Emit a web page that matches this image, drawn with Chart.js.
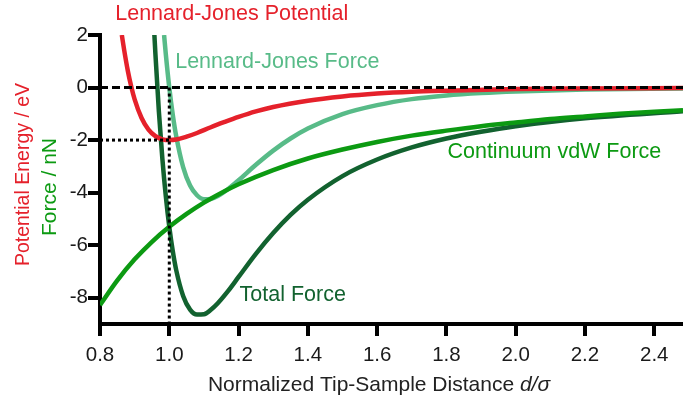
<!DOCTYPE html>
<html>
<head>
<meta charset="utf-8">
<title>Tip-Sample Interaction</title>
<script src="https://cdn.jsdelivr.net/npm/chart.js@4.4.1/dist/chart.umd.min.js"></script>
<style>
  html, body { margin: 0; padding: 0; background: #ffffff; }
  #wrap { width: 683px; height: 400px; }
</style>
</head>
<body>
<div id="wrap"><canvas id="c" width="683" height="400"></canvas></div>
<script>
// Lennard-Jones potential (eV) versus normalized distance d/sigma
const ljPotX = [0.863, 0.87, 0.88, 0.89, 0.90, 0.92, 0.94, 0.96, 0.98, 1.00, 1.02, 1.05, 1.08, 1.12, 1.16, 1.20, 1.25, 1.30, 1.40, 1.50, 1.60, 1.70, 1.80, 2.00, 2.20, 2.483];
const ljPotY = [2.00, 1.41, 0.66, 0.05, -0.45, -1.16, -1.60, -1.85, -1.97, -2.00, -1.98, -1.87, -1.73, -1.51, -1.31, -1.12, -0.91, -0.74, -0.50, -0.34, -0.23, -0.16, -0.12, -0.06, -0.035, -0.017];

// Lennard-Jones force (nN)
const ljForceX = [0.985, 0.99, 1.00, 1.01, 1.02, 1.04, 1.06, 1.08, 1.10, 1.12, 1.14, 1.17, 1.20, 1.25, 1.30, 1.35, 1.40, 1.50, 1.60, 1.70, 1.80, 1.90, 2.00, 2.20, 2.483];
const ljForceY = [2.00, 1.27, 0.00, -1.03, -1.85, -3.03, -3.73, -4.10, -4.25, -4.24, -4.13, -3.86, -3.53, -2.94, -2.40, -1.94, -1.56, -1.01, -0.67, -0.44, -0.30, -0.21, -0.15, -0.075, -0.033];

// Continuum van der Waals force (nN)
const vdwX = [0.80, 0.85, 0.90, 0.95, 1.00, 1.05, 1.10, 1.15, 1.20, 1.30, 1.40, 1.50, 1.60, 1.70, 1.80, 1.90, 2.00, 2.10, 2.20, 2.30, 2.40, 2.483];
const vdwY = [-8.28, -7.34, -6.54, -5.87, -5.30, -4.81, -4.38, -4.01, -3.68, -3.14, -2.70, -2.36, -2.07, -1.83, -1.64, -1.47, -1.33, -1.20, -1.10, -1.00, -0.92, -0.86];

// Total force (nN)
const totalX = [0.957, 0.96, 0.97, 0.98, 0.99, 1.00, 1.01, 1.02, 1.04, 1.06, 1.08, 1.10, 1.12, 1.14, 1.17, 1.20, 1.25, 1.30, 1.35, 1.40, 1.50, 1.60, 1.70, 1.80, 1.90, 2.00, 2.20, 2.483];
const totalY = [2.00, 1.27, -0.92, -2.70, -4.14, -5.30, -6.22, -6.95, -7.93, -8.45, -8.64, -8.63, -8.46, -8.21, -7.74, -7.21, -6.33, -5.54, -4.85, -4.27, -3.37, -2.74, -2.28, -1.94, -1.68, -1.47, -1.17, -0.90];

// Axis ranges and tick labels
const xRange = [0.8, 2.483];
const yRange = [-9, 2];
const xTicks = [0.8, 1.0, 1.2, 1.4, 1.6, 1.8, 2.0, 2.2, 2.4];
const yTicks = [2, 0, -2, -4, -6, -8];

// Guide lines: zero level, and the equilibrium point (d = sigma, E = -2)
const zeroLineX = [0.8, 2.483];
const zeroLineY = [0, 0];
const minEnergyX = [0.8, 1.0];
const minEnergyY = [-2, -2];
const sigmaX = [1.0, 1.0];
const sigmaY = [0, -9];

const RED = '#e5212b';
const LIGHT = '#58bb88';
const GREEN = '#0c9a12';
const DARK = '#12622f';
const FONT = '"Liberation Sans", Arial, Helvetica, sans-serif';

const pts = (xs, ys) => xs.map((x, i) => ({ x: x, y: ys[i] }));

function curve(label, xs, ys, color, order) {
  return {
    label: label,
    data: pts(xs, ys),
    borderColor: color,
    backgroundColor: color,
    borderWidth: 4.5,
    pointRadius: 0,
    cubicInterpolationMode: 'monotone',
    fill: false,
    order: order
  };
}

function guide(label, xs, ys, dash, order) {
  return {
    label: label,
    data: pts(xs, ys),
    borderColor: '#000000',
    borderWidth: 3,
    borderDash: dash,
    borderCapStyle: 'butt',
    pointRadius: 0,
    tension: 0,
    fill: false,
    order: order
  };
}

// Curve labels and axis titles drawn on top of the plot
const annotate = {
  id: 'annotate',
  afterDraw(chart) {
    const { ctx, scales: { x, y } } = chart;
    ctx.save();
    ctx.textBaseline = 'middle';
    ctx.textAlign = 'left';
    ctx.font = '21.5px ' + FONT;

    const tag = (text, dx, dy, color) => {
      ctx.fillStyle = color;
      ctx.fillText(text, x.getPixelForValue(dx), y.getPixelForValue(dy));
    };
    tag('Lennard-Jones Potential', 0.844, 2.78, RED);
    tag('Lennard-Jones Force', 1.017, 0.98, LIGHT);
    tag('Continuum vdW Force', 1.803, -2.44, GREEN);
    tag('Total Force', 1.203, -7.89, DARK);

    // y-axis titles (two colours, stacked)
    ctx.textAlign = 'center';
    ctx.save();
    ctx.translate(24, 174.5);
    ctx.rotate(-Math.PI / 2);
    ctx.font = '19.5px ' + FONT;
    ctx.fillStyle = RED;
    ctx.fillText('Potential Energy / eV', 0, 0);
    ctx.restore();

    ctx.save();
    ctx.translate(50, 187);
    ctx.rotate(-Math.PI / 2);
    ctx.font = '21px ' + FONT;
    ctx.fillStyle = GREEN;
    ctx.fillText('Force / nN', 0, 0);
    ctx.restore();

    // x-axis title with italic d/sigma
    ctx.textAlign = 'left';
    const plain = 'Normalized Tip-Sample Distance ';
    const ital = 'd/\u03c3';
    ctx.font = '21px ' + FONT;
    const w1 = ctx.measureText(plain).width;
    ctx.font = 'italic 21px ' + FONT;
    const w2 = ctx.measureText(ital).width;
    const x0 = 379 - (w1 + w2) / 2;
    ctx.fillStyle = '#222222';
    ctx.font = '21px ' + FONT;
    ctx.fillText(plain, x0, 385);
    ctx.font = 'italic 21px ' + FONT;
    ctx.fillText(ital, x0 + w1, 385);
    ctx.restore();
  }
};

const tickFont = { family: FONT, size: 20.5 };

new Chart(document.getElementById('c'), {
  type: 'line',
  data: {
    datasets: [
      guide('zero', zeroLineX, zeroLineY, [8, 4], 0),
      guide('Emin', minEnergyX, minEnergyY, [3, 3], 0),
      guide('sigma', sigmaX, sigmaY, [3, 3], 0),
      curve('Lennard-Jones Potential', ljPotX, ljPotY, RED, 1),
      curve('Continuum vdW Force', vdwX, vdwY, GREEN, 2),
      curve('Lennard-Jones Force', ljForceX, ljForceY, LIGHT, 3),
      curve('Total Force', totalX, totalY, DARK, 4)
    ]
  },
  options: {
    responsive: false,
    animation: false,
    events: [],
    layout: { padding: { top: 35, right: 0, left: 0, bottom: 0 } },
    plugins: { legend: { display: false }, tooltip: { enabled: false } },
    scales: {
      x: {
        type: 'linear',
        min: xRange[0],
        max: xRange[1],
        afterBuildTicks: (s) => { s.ticks = xTicks.map(v => ({ value: v })); },
        afterFit: (s) => { s.height = 76; },
        ticks: {
          autoSkip: false,
          maxRotation: 0,
          color: '#1a1a1a',
          font: tickFont,
          padding: 7,
          callback: (v) => Number(v).toFixed(1)
        },
        grid: { drawOnChartArea: false, drawTicks: true, tickLength: 12, tickWidth: 4, tickColor: '#000000', lineWidth: 4, color: '#000000' },
        border: { display: true, color: '#000000', width: 4 }
      },
      y: {
        type: 'linear',
        min: yRange[0],
        max: yRange[1],
        afterBuildTicks: (s) => { s.ticks = yTicks.map(v => ({ value: v })); },
        afterFit: (s) => { s.width = 100; },
        ticks: {
          autoSkip: false,
          color: '#1a1a1a',
          font: tickFont,
          padding: 0,
          callback: (v) => String(v)
        },
        grid: { drawOnChartArea: false, drawTicks: true, tickLength: 12, tickWidth: 4, tickColor: '#000000', lineWidth: 4, color: '#000000' },
        border: { display: true, color: '#000000', width: 4 }
      }
    }
  },
  plugins: [annotate]
});
</script>
</body>
</html>
